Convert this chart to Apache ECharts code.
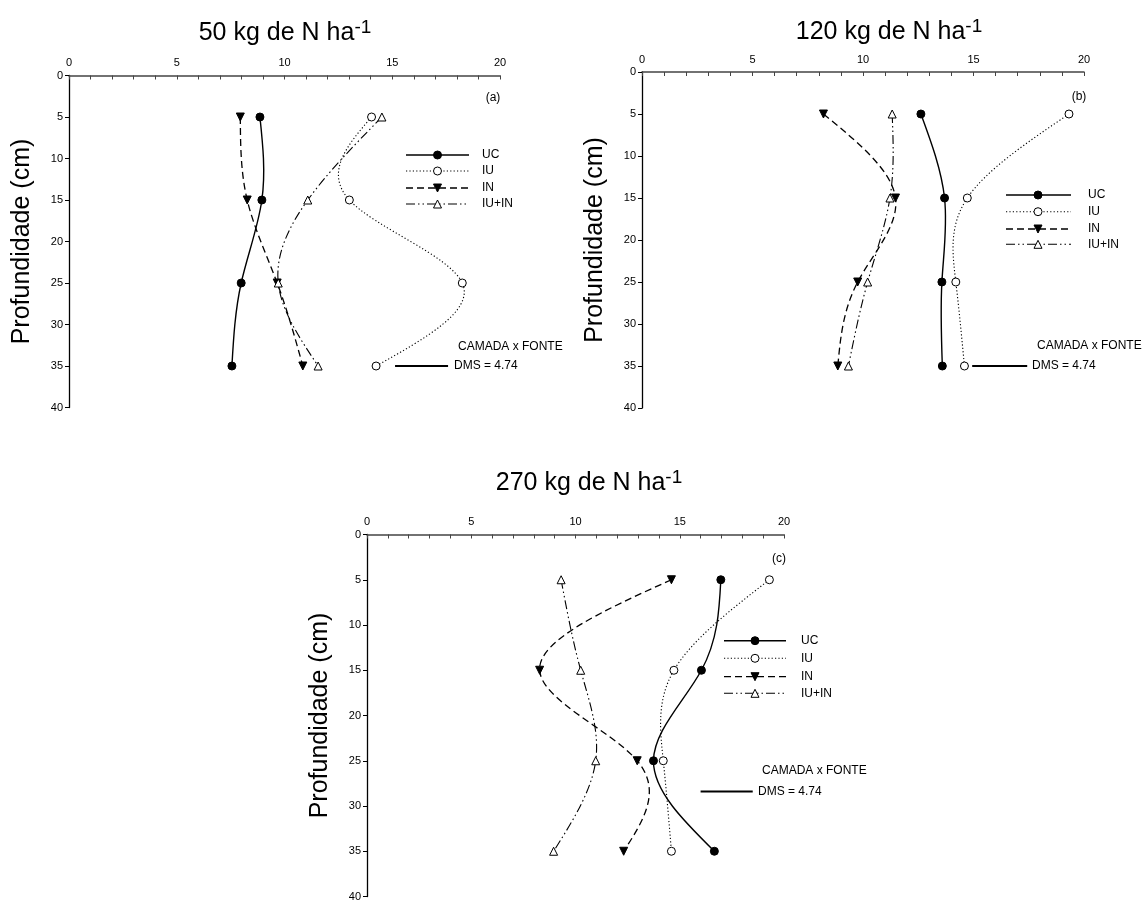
<!DOCTYPE html>
<html><head><meta charset="utf-8">
<script src="https://cdn.jsdelivr.net/npm/echarts@6/dist/echarts.min.js"></script>
<style>html,body{margin:0;padding:0;background:#fff}#c{width:1146px;height:902px}</style>
</head><body><div id="c"></div>
<script>
// ---------- data ----------
const depths = [5, 15, 25, 35];
const seriesNames = ['UC', 'IU', 'IN', 'IU+IN'];
const panelTitles = ['50 kg de N ha', '120 kg de N ha', '270 kg de N ha'];
const panelTags = ['(a)', '(b)', '(c)'];
const xTicks = [0, 5, 10, 15, 20];
const yTicks = [0, 5, 10, 15, 20, 25, 30, 35, 40];

const ucA   = [8.86, 8.95, 7.99, 7.56];
const iuA   = [14.04, 13.01, 18.25, 14.25];
const inA   = [7.95, 8.27, 9.66, 10.85];
const iuinA = [14.52, 11.08, 9.71, 11.56];

const ucB   = [12.62, 13.69, 13.57, 13.59];
const iuB   = [19.32, 14.72, 14.20, 14.59];
const inB   = [8.21, 11.47, 9.76, 8.86];
const iuinB = [11.32, 11.22, 10.21, 9.34];

const ucC   = [16.97, 16.04, 13.74, 16.66];
const iuC   = [19.30, 14.72, 14.21, 14.60];
const inC   = [14.60, 8.28, 12.96, 12.31];
const iuinC = [9.31, 10.25, 10.97, 8.95];

const dmsLabel = 'DMS = 4.74';
const dmsBarX = [[15.13, 17.59], [14.94, 17.43], [16.0, 18.5]];
const dmsBarY = [35, 35, 28.4];

// ---------- layout / styles ----------
const FF = '"Liberation Sans", Arial, sans-serif';
const panelData = [
  [ucA, iuA, inA, iuinA],
  [ucB, iuB, inB, iuinB],
  [ucC, iuC, inC, iuinC]
];
const grids = [
  {left: 69, top: 75.5, width: 431, height: 332},
  {left: 642, top: 72, width: 442, height: 336},
  {left: 367, top: 534.5, width: 417, height: 363}
];
const titlePos = [[285, 33], [889, 32], [589, 483]];
const tagPos = [[493, 98], [1079, 97], [779, 559]];
const camadaPos = [[458, 347], [1037, 346], [762, 771]];
const dmsTextPos = [[454, 366], [1032, 366], [758, 792]];
const legendLayout = [
  {x1: 406, x2: 469, mx: 437.5, tx: 482, ys: [155, 171, 188, 204]},
  {x1: 1006, x2: 1071, mx: 1038, tx: 1088, ys: [195, 211.7, 229, 244.3]},
  {x1: 724, x2: 786, mx: 755, tx: 801, ys: [640.7, 658.3, 676.7, 693.3]}
];
const styles = [
  {symbol: 'circle', fill: '#000', rot: 0, dash: null, lw: 1.4},
  {symbol: 'circle', fill: '#fff', rot: 0, dash: [1.2, 2.2], lw: 1.1},
  {symbol: 'triangle', fill: '#000', rot: 180, dash: [7, 4], lw: 1.3},
  {symbol: 'triangle', fill: '#fff', rot: 0, dash: [9, 3, 1.5, 3, 1.5, 3], lw: 1.1}
];

// natural cubic spline (x as function of screen y), drawn as exact Bezier segments
function splinePath(pts) {
  const n = pts.length;
  const t = pts.map(p => p[1]), x = pts.map(p => p[0]);
  const h = [];
  for (let i = 0; i < n - 1; i++) h.push(t[i + 1] - t[i]);
  const M = new Array(n).fill(0);
  if (n > 2) {
    const a = [], b = [], c = [], d = [];
    for (let i = 1; i < n - 1; i++) {
      a.push(h[i - 1]); b.push(2 * (h[i - 1] + h[i])); c.push(h[i]);
      d.push(6 * ((x[i + 1] - x[i]) / h[i] - (x[i] - x[i - 1]) / h[i - 1]));
    }
    const m = b.length;
    for (let i = 1; i < m; i++) {
      const w = a[i] / b[i - 1];
      b[i] -= w * c[i - 1]; d[i] -= w * d[i - 1];
    }
    const sol = new Array(m);
    sol[m - 1] = d[m - 1] / b[m - 1];
    for (let i = m - 2; i >= 0; i--) sol[i] = (d[i] - c[i] * sol[i + 1]) / b[i];
    for (let i = 0; i < m; i++) M[i + 1] = sol[i];
  }
  let path = 'M' + x[0] + ' ' + t[0];
  for (let i = 0; i < n - 1; i++) {
    const s = (x[i + 1] - x[i]) / h[i];
    const d0 = s - h[i] * (2 * M[i] + M[i + 1]) / 6;
    const d1 = s + h[i] * (M[i] + 2 * M[i + 1]) / 6;
    const k = h[i] / 3;
    path += ' C' + (x[i] + k * d0) + ' ' + (t[i] + k) + ' ' +
      (x[i + 1] - k * d1) + ' ' + (t[i + 1] - k) + ' ' + x[i + 1] + ' ' + t[i + 1];
  }
  return path;
}

function makeRenderItem(style) {
  return function (params, api) {
    if (params.dataIndexInside !== 0) return null;
    const pts = [];
    for (let k = 0; k < params.dataInsideLength; k++) {
      pts.push(api.coord([api.value(0, k), api.value(1, k)]));
    }
    return {
      type: 'path',
      shape: {pathData: splinePath(pts)},
      style: {fill: 'none', stroke: '#000', lineWidth: style.lw, lineDash: style.dash}
    };
  };
}

const xAxes = [], yAxes = [], series = [], graphics = [];
grids.forEach((g, i) => {
  xAxes.push({
    type: 'value', gridIndex: i, position: 'top',
    min: xTicks[0], max: xTicks[xTicks.length - 1], interval: xTicks[1] - xTicks[0],
    axisLine: {show: true, lineStyle: {color: '#444', width: 1.5}},
    axisTick: {show: true, inside: true, length: 4, lineStyle: {color: '#444'}},
    minorTick: {show: true, splitNumber: 5, length: 4, lineStyle: {color: '#444'}},
    splitLine: {show: false}, minorSplitLine: {show: false},
    axisLabel: {fontSize: 11, color: '#000', fontFamily: FF, margin: 7}
  });
  yAxes.push({
    type: 'value', gridIndex: i, inverse: true,
    min: yTicks[0], max: yTicks[yTicks.length - 1], interval: yTicks[1] - yTicks[0],
    axisLine: {show: true, lineStyle: {color: '#000', width: 1.3}},
    axisTick: {show: true, inside: false, length: 4, lineStyle: {color: '#000'}},
    splitLine: {show: false},
    axisLabel: {fontSize: 11, color: '#000', fontFamily: FF, margin: 6},
    name: 'Profundidade (cm)', nameLocation: 'middle', nameGap: 34,
    nameTextStyle: {fontSize: 25, color: '#000', fontFamily: FF}
  });
  panelData[i].forEach((vals, j) => {
    const s = styles[j];
    const pts = vals.map((v, k) => [v, depths[k]]);
    series.push({
      type: 'custom', name: seriesNames[j] + ' curve', coordinateSystem: 'cartesian2d',
      xAxisIndex: i, yAxisIndex: i, encode: {x: 0, y: 1},
      data: pts, renderItem: makeRenderItem(s), silent: true, z: 2
    });
    series.push({
      type: 'scatter', name: seriesNames[j], xAxisIndex: i, yAxisIndex: i,
      data: pts, symbol: s.symbol, symbolSize: 8, symbolRotate: s.rot,
      itemStyle: {color: s.fill, borderColor: '#000', borderWidth: 1, opacity: 1},
      emphasis: {disabled: true}, silent: true, z: 5 + j
    });
  });
  series.push({
    type: 'line', xAxisIndex: i, yAxisIndex: i,
    data: [[dmsBarX[i][0], dmsBarY[i]], [dmsBarX[i][1], dmsBarY[i]]],
    symbol: 'none', lineStyle: {color: '#000', width: 2}, silent: true
  });

  // titles
  graphics.push({
    type: 'text', x: titlePos[i][0], y: titlePos[i][1],
    style: {
      text: '{t|' + panelTitles[i] + '}{s|-1}',
      align: 'center', verticalAlign: 'middle',
      rich: {
        t: {fontSize: 25, fontFamily: FF, fill: '#000', lineHeight: 30},
        s: {fontSize: 19, fontFamily: FF, fill: '#000', lineHeight: 19, verticalAlign: 'top'}
      }
    }
  });
  graphics.push({type: 'text', x: tagPos[i][0], y: tagPos[i][1],
    style: {text: panelTags[i], fontSize: 12, fontFamily: FF, fill: '#000', align: 'center', verticalAlign: 'middle'}});
  graphics.push({type: 'text', x: camadaPos[i][0], y: camadaPos[i][1],
    style: {text: 'CAMADA x FONTE', fontSize: 12, fontFamily: FF, fill: '#000', align: 'left', verticalAlign: 'middle'}});
  graphics.push({type: 'text', x: dmsTextPos[i][0], y: dmsTextPos[i][1],
    style: {text: dmsLabel, fontSize: 12, fontFamily: FF, fill: '#000', align: 'left', verticalAlign: 'middle'}});

  // legend
  const L = legendLayout[i];
  styles.forEach((s, j) => {
    const y = L.ys[j];
    graphics.push({type: 'line', shape: {x1: L.x1, y1: y, x2: L.x2, y2: y},
      style: {stroke: '#000', lineWidth: s.lw, lineDash: s.dash}});
    if (s.symbol === 'circle') {
      graphics.push({type: 'circle', shape: {cx: L.mx, cy: y, r: 4},
        style: {fill: s.fill, stroke: '#000', lineWidth: 1}, z: 10});
    } else {
      const m = L.mx;
      const pts = s.rot === 180
        ? [[m - 4, y - 4], [m + 4, y - 4], [m, y + 4]]
        : [[m, y - 4], [m + 4, y + 4], [m - 4, y + 4]];
      graphics.push({type: 'polygon', shape: {points: pts},
        style: {fill: s.fill, stroke: '#000', lineWidth: 1}, z: 10});
    }
    graphics.push({type: 'text', x: L.tx, y: y,
      style: {text: seriesNames[j], fontSize: 12, fontFamily: FF, fill: '#000', align: 'left', verticalAlign: 'middle'}});
  });
});

const chart = echarts.init(document.getElementById('c'), null, {renderer: 'canvas'});
chart.setOption({
  animation: false,
  backgroundColor: '#fff',
  grid: grids,
  xAxis: xAxes,
  yAxis: yAxes,
  series: series,
  graphic: graphics
});
</script>
</body></html>
